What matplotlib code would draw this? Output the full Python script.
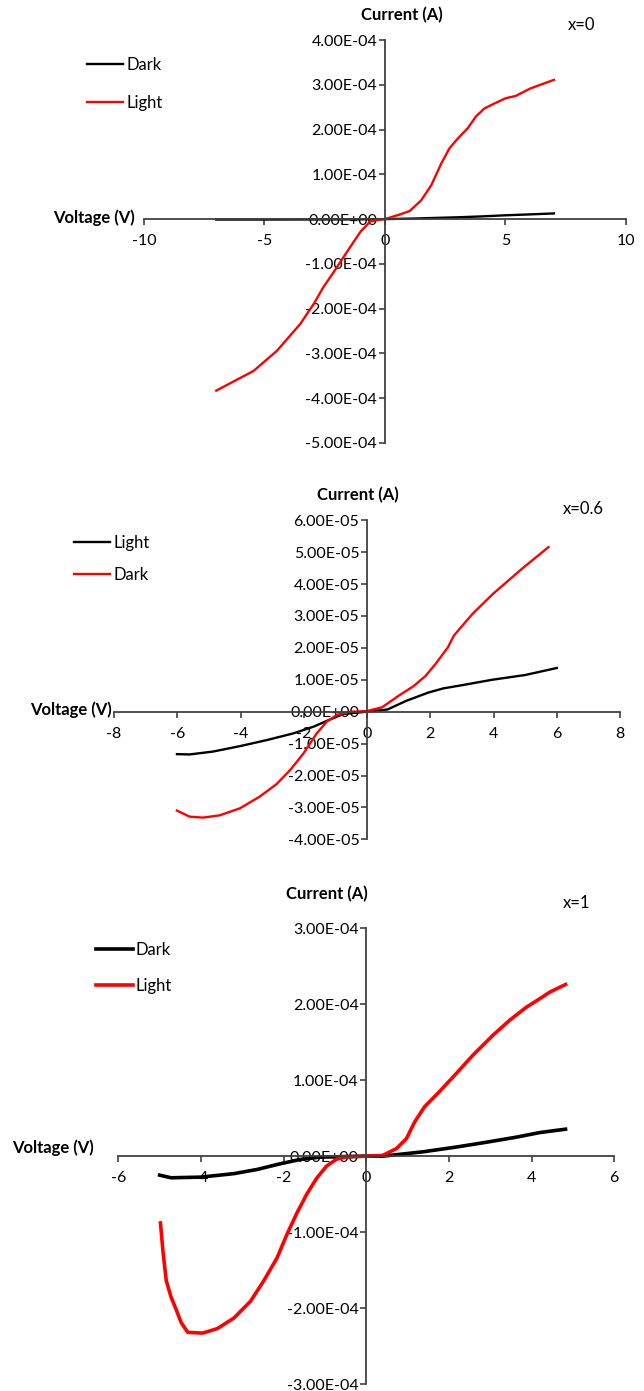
import matplotlib
matplotlib.use('Agg')
import matplotlib.pyplot as plt
from matplotlib.ticker import FuncFormatter, MultipleLocator

plt.rcParams['font.family'] = ['Lato', 'DejaVu Sans']

W, H = 644, 1391

# --- x=0 panel (values in A) ---
v0_light = [-7.0, -5.45, -4.48, -3.51, -2.95, -2.54, -2.12, -1.57, -1.01, -0.60, -0.30, 0.0,
            0.55, 1.03, 1.51, 1.93, 2.34, 2.68, 3.03, 3.44, 3.78, 4.13, 4.54, 5.02, 5.43, 6.05, 7.02]
i0_light = [-3.83e-4, -3.39e-4, -2.94e-4, -2.34e-4, -1.89e-4, -1.51e-4, -1.18e-4, -0.73e-4, -0.28e-4,
            -0.05e-4, -0.02e-4, 0.0, 0.09e-4, 0.18e-4, 0.42e-4, 0.76e-4, 1.24e-4, 1.58e-4, 1.80e-4,
            2.03e-4, 2.29e-4, 2.47e-4, 2.58e-4, 2.70e-4, 2.75e-4, 2.92e-4, 3.11e-4]
v0_dark = [-7.0, -5.0, -3.0, -1.0, 0.0, 1.0, 2.0, 3.0, 4.0, 5.0, 6.0, 7.02]
i0_dark = [-1.0e-6, -1.0e-6, -0.8e-6, -0.5e-6, 0.0, 1.0e-6, 2.5e-6, 4.0e-6, 6.0e-6, 8.5e-6, 10.5e-6, 12.7e-6]

# --- x=0.6 panel (legend names swapped as in the source) ---
v6_red = [-6.01, -5.61, -5.19, -4.66, -4.02, -3.39, -2.86, -2.43, -2.01, -1.59, -1.27, -0.95, -0.53,
          0.0, 0.48, 1.0, 1.47, 1.85, 2.17, 2.56, 2.75, 3.34, 3.99, 4.9, 5.74]
i6_red = [-3.10e-5, -3.29e-5, -3.32e-5, -3.25e-5, -3.03e-5, -2.66e-5, -2.27e-5, -1.83e-5, -1.31e-5,
          -0.68e-5, -0.31e-5, -0.10e-5, 0.0, 0.02e-5, 0.14e-5, 0.50e-5, 0.80e-5, 1.12e-5, 1.50e-5,
          2.02e-5, 2.39e-5, 3.07e-5, 3.70e-5, 4.48e-5, 5.16e-5]
v6_black = [-6.01, -5.61, -4.87, -4.02, -3.17, -2.33, -1.69, -1.16, -0.74, 0.0, 0.65, 1.24, 1.94,
            2.41, 3.0, 3.95, 5.0, 6.0]
i6_black = [-1.33e-5, -1.34e-5, -1.25e-5, -1.08e-5, -0.89e-5, -0.68e-5, -0.47e-5, -0.24e-5, -0.07e-5,
            0.0, 0.07e-5, 0.34e-5, 0.60e-5, 0.73e-5, 0.83e-5, 1.00e-5, 1.15e-5, 1.37e-5]

# --- x=1 panel ---
v1_light = [-4.98, -4.92, -4.84, -4.72, -4.60, -4.48, -4.32, -3.96, -3.60, -3.20, -2.80, -2.48, -2.16,
            -1.92, -1.68, -1.44, -1.20, -0.96, -0.72, -0.48, 0.0, 0.40, 0.73, 0.97, 1.17, 1.41, 1.77,
            2.18, 2.58, 3.06, 3.47, 3.87, 4.19, 4.44, 4.82]
i1_light = [-0.88e-4, -1.25e-4, -1.64e-4, -1.86e-4, -2.02e-4, -2.19e-4, -2.32e-4, -2.33e-4, -2.27e-4,
            -2.13e-4, -1.91e-4, -1.64e-4, -1.34e-4, -1.03e-4, -0.75e-4, -0.50e-4, -0.29e-4, -0.13e-4,
            -0.04e-4, -0.01e-4, 0.0, 0.01e-4, 0.10e-4, 0.23e-4, 0.45e-4, 0.65e-4, 0.85e-4, 1.09e-4,
            1.33e-4, 1.59e-4, 1.79e-4, 1.96e-4, 2.07e-4, 2.16e-4, 2.26e-4]
v1_dark = [-5.0, -4.72, -4.0, -3.2, -2.64, -2.08, -1.6, -1.12, 0.0, 0.4, 1.37, 2.18, 2.98, 3.63,
           4.19, 4.82]
i1_dark = [-0.25e-4, -0.285e-4, -0.276e-4, -0.23e-4, -0.175e-4, -0.10e-4, -0.044e-4, -0.013e-4, 0.0,
           0.0, 0.057e-4, 0.12e-4, 0.19e-4, 0.25e-4, 0.31e-4, 0.355e-4]

AXIS_COLOR = '#404040'
FS = 11.5
FS_BOLD = 12


def fx(px):
    return px / W


def fy(py):
    return 1 - py / H


def make_axes(fig, left, right, top, bottom, xlim, xstep, ylim, ystep):
    ax = fig.add_axes([fx(left), fy(bottom), fx(right) - fx(left), fy(top) - fy(bottom)])
    ax.set_xlim(*xlim)
    ax.set_ylim(*ylim)
    for s in ['top', 'right']:
        ax.spines[s].set_visible(False)
    ax.spines['left'].set_position(('data', 0))
    ax.spines['bottom'].set_position(('data', 0))
    for s in ['left', 'bottom']:
        ax.spines[s].set_color(AXIS_COLOR)
        ax.spines[s].set_linewidth(1.3)
    ax.xaxis.set_major_locator(MultipleLocator(xstep))
    ax.yaxis.set_major_locator(MultipleLocator(ystep))
    ax.xaxis.set_major_formatter(FuncFormatter(lambda v, p: f'{v:g}'))
    ax.yaxis.set_major_formatter(FuncFormatter(lambda v, p: f'{v:.2E}'))
    ax.tick_params(axis='both', direction='out', length=4, width=1.2, color=AXIS_COLOR,
                   labelsize=FS, labelcolor='black')
    ax.tick_params(axis='x', pad=7)
    ax.tick_params(axis='y', pad=1.5)
    ax.patch.set_alpha(0)
    return ax


def add_texts(fig, cur_xy, tag_xy, volt_xy):
    fig.text(fx(cur_xy[0]), fy(cur_xy[1]), 'Current (A)', ha='center', va='center',
             fontsize=FS_BOLD, fontweight='bold')
    fig.text(fx(tag_xy[0]), fy(tag_xy[1]), tag_xy[2], ha='center', va='center', fontsize=FS_BOLD)
    fig.text(fx(volt_xy[0]), fy(volt_xy[1]), 'Voltage (V)', ha='right', va='center',
             fontsize=FS_BOLD, fontweight='bold')


def add_legend(ax, fig, x, y_first, spacing):
    ax.legend(loc='upper left', bbox_to_anchor=(fx(x), fy(y_first - 5)),
              bbox_transform=fig.transFigure, frameon=False, fontsize=FS_BOLD,
              handlelength=2.2, handletextpad=0.2, borderpad=0, borderaxespad=0,
              labelspacing=spacing)


fig = plt.figure(figsize=(W / 100, H / 100), dpi=100)

# Panel x=0
ax1 = make_axes(fig, 144, 625.7, 40, 443, (-10, 10), 5, (-5e-4, 4e-4), 1e-4)
ax1.plot(v0_dark, i0_dark, color='black', lw=1.7, label='Dark')
ax1.plot(v0_light, i0_light, color='#ff0000', lw=1.7, label='Light')
add_texts(fig, (401.7, 15), (582, 25, 'x=0'), (135, 218))
add_legend(ax1, fig, 86.8, 62, 1.3)

# Panel x=0.6
ax2 = make_axes(fig, 114, 620, 520.3, 839.3, (-8, 8), 2, (-4e-5, 6e-5), 1e-5)
ax2.plot(v6_black, i6_black, color='black', lw=1.7, label='Light')
ax2.plot(v6_red, i6_red, color='#ff0000', lw=1.7, label='Dark')
add_texts(fig, (357.4, 495), (583.5, 509, 'x=0.6'), (111.6, 710))
add_legend(ax2, fig, 73.6, 540, 0.95)

# Panel x=1
ax3 = make_axes(fig, 118.3, 614.3, 928.3, 1384, (-6, 6), 2, (-3e-4, 3e-4), 1e-4)
ax3.plot(v1_dark, i1_dark, color='black', lw=2.6, label='Dark')
ax3.plot(v1_light, i1_light, color='#ff0000', lw=2.6, label='Light')
add_texts(fig, (326.4, 894), (577, 903, 'x=1'), (94.2, 1148))
add_legend(ax3, fig, 95.9, 947, 1.2)

fig.savefig('out.png', dpi=100)
